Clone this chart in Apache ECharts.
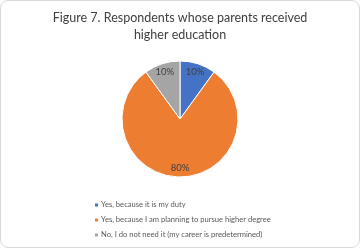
<!DOCTYPE html>
<html>
<head>
<meta charset="utf-8">
<script src="https://cdn.jsdelivr.net/npm/echarts@6/dist/echarts.min.js"></script>
<style>
  html, body { margin: 0; padding: 0; background: #fff; }
  #box {
    position: absolute; left: 0; top: 0;
    width: 358px; height: 246px;
    border: 1px solid #d9d9d9; border-radius: 8px;
    overflow: hidden; background: #fff;
  }
  #chart { width: 358px; height: 246px; }
</style>
</head>
<body>
<div id="box"><div id="chart"></div></div>
<script>
const categories = [
  'Yes, because it is my duty',
  'Yes, because I am planning to pursue higher degree',
  'No, I do not need it (my career is predetermined)'
];
const shares = [10, 80, 10];
const colors = ['#4472C4', '#ED7D31', '#A5A5A5'];

const chart = echarts.init(document.getElementById('chart'));

const pieData = categories.map((name, i) => ({
  name: name,
  value: shares[i],
  itemStyle: { color: colors[i] }
}));

chart.setOption({
  animation: false,
  title: {
    text: 'Figure 7. Respondents whose parents received\nhigher education',
    left: 'center',
    top: 3,
    textStyle: {
      fontFamily: 'Lato',
      fontSize: 12.5,
      fontWeight: 'normal',
      color: '#404040',
      lineHeight: 17
    }
  },
  legend: {
    orient: 'vertical',
    left: 87,
    top: 197,
    height: 48,
    padding: [2, 5, 2, 5],
    itemWidth: 5,
    itemHeight: 5,
    itemGap: 5,
    icon: 'rect',
    data: categories,
    textStyle: { fontFamily: 'Lato', fontSize: 7.6, lineHeight: 10, color: '#595959', padding: [0, 0, 0, -3] }
  },
  series: [{
    type: 'pie',
    center: [179, 118],
    radius: [0, 58],
    startAngle: 90,
    clockwise: true,
    silent: true,
    data: pieData,
    itemStyle: { borderColor: '#fff', borderWidth: 1 },
    label: { show: false },
    labelLine: { show: false }
  }, {
    type: 'pie',
    center: [179, 118],
    radius: [34, 58],
    startAngle: 90,
    clockwise: true,
    silent: true,
    data: categories.map((name, i) => ({ name: name, value: shares[i] })),
    itemStyle: { color: 'transparent' },
    label: {
      show: true,
      position: 'inside',
      formatter: '{c}%',
      fontFamily: 'Lato',
      fontSize: 9.5,
      color: '#404040'
    },
    labelLine: { show: false }
  }]
});
</script>
</body>
</html>
